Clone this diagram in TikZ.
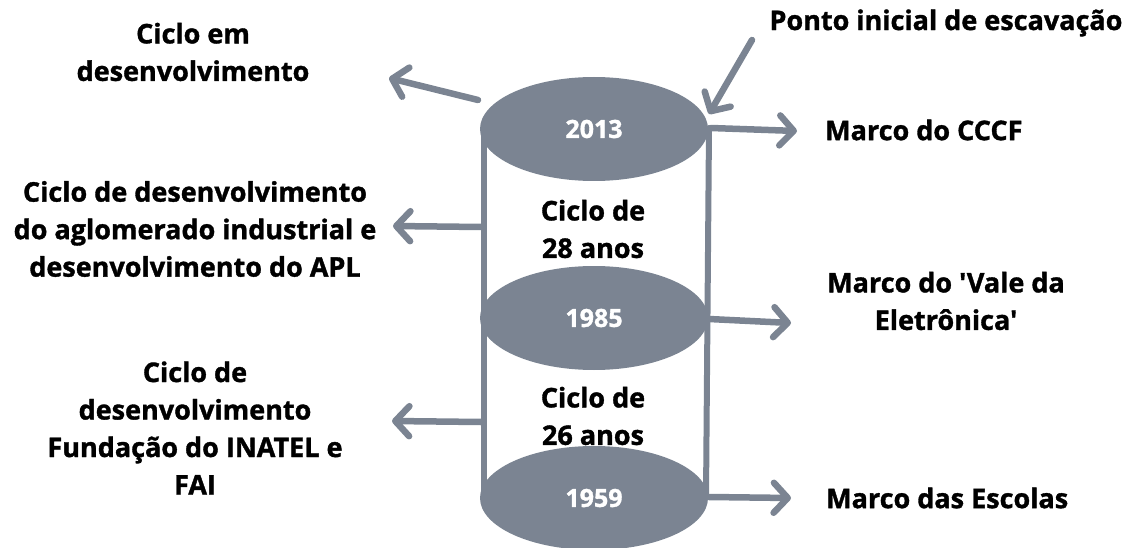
\documentclass[tikz,border=0pt]{standalone}
\usepackage{fontspec}
\newfontfamily\osf{Open Sans}[FakeBold=1.3]
\usetikzlibrary{arrows.meta,shapes.geometric}
\definecolor{slate}{RGB}{123,132,146}
\begin{document}
\begin{tikzpicture}[x=1pt,y=-1pt,
  txt/.style={font=\osf\fontsize{27}{37.5}\selectfont\bfseries,align=center,inner sep=0pt,text=black},
  yr/.style={font=\osf\fontsize{25}{28}\selectfont\bfseries,text=white},
  disc/.style={ellipse,fill=slate,minimum width=228pt,minimum height=104pt,inner sep=0pt},
  wall/.style={draw=slate,line width=6pt,line cap=round},
  arr/.style={draw=slate,line width=6.5pt,line cap=round,line join=round,
    -{Straight Barb[length=14pt,width=30pt,line cap=round,line join=round]}}]
\useasboundingbox (0,0) rectangle (1132,548);
% cylinder walls
\coordinate (lt) at (484,130);
\coordinate (lb) at (484,497);
\coordinate (rt) at (709,128);
\coordinate (rb) at (706,497);
\draw[wall] (lt) -- (lb);
\draw[wall] (rt) -- (rb);
% discs
\node[disc] (d2013) at (594,129) {};
\node[disc] (d1985) at (594,318) {};
\node[disc] (d1959) at (594,498) {};
\node[yr] at (d2013) {2013};
\node[yr] at (d1985) {1985};
\node[yr] at (d1959) {1959};
% middle texts
\node[txt] (c28) at (593,229) {Ciclo de\\28 anos};
\node[txt] (c26) at (593,416) {Ciclo de\\26 anos};
% left texts
\node[txt] (lt1) at (193,52) {Ciclo em\\desenvolvimento};
\node[txt] (lt2) at (195,229) {Ciclo de desenvolvimento\\do aglomerado industrial e\\desenvolvimento do APL};
\node[txt] (lt3) at (195,428) {Ciclo de\\desenvolvimento\\Fundação do INATEL e\\FAI};
% right texts
\node[txt] (rt0) at (946,23) {Ponto inicial de escavação};
\node[txt,anchor=west] (rt1) at (825,130) {Marco do CCCF};
\node[txt] (rt2) at (946,301) {Marco do 'Vale da\\Eletrônica'};
\node[txt,anchor=west] (rt3) at (826,498) {Marco das Escolas};
% arrow coordinates
\coordinate (a1s) at (478,100); \coordinate (a1e) at (389,78);
\coordinate (a2s) at (481,227); \coordinate (a2e) at (393,226);
\coordinate (a3s) at (481,422); \coordinate (a3e) at (392,421);
\coordinate (a0s) at (752,40);  \coordinate (a0e) at (709,114);
\coordinate (b1s) at (711,128); \coordinate (b1e) at (797,131);
\coordinate (b2s) at (709,319); \coordinate (b2e) at (791,323);
\coordinate (b3s) at (709,497); \coordinate (b3e) at (791,498);
\draw[arr] (a1s) -- (a1e);
\draw[arr] (a2s) -- (a2e);
\draw[arr] (a3s) -- (a3e);
\draw[arr] (a0s) -- (a0e);
\draw[arr] (b1s) -- (b1e);
\draw[arr] (b2s) -- (b2e);
\draw[arr] (b3s) -- (b3e);
\end{tikzpicture}
\end{document}
